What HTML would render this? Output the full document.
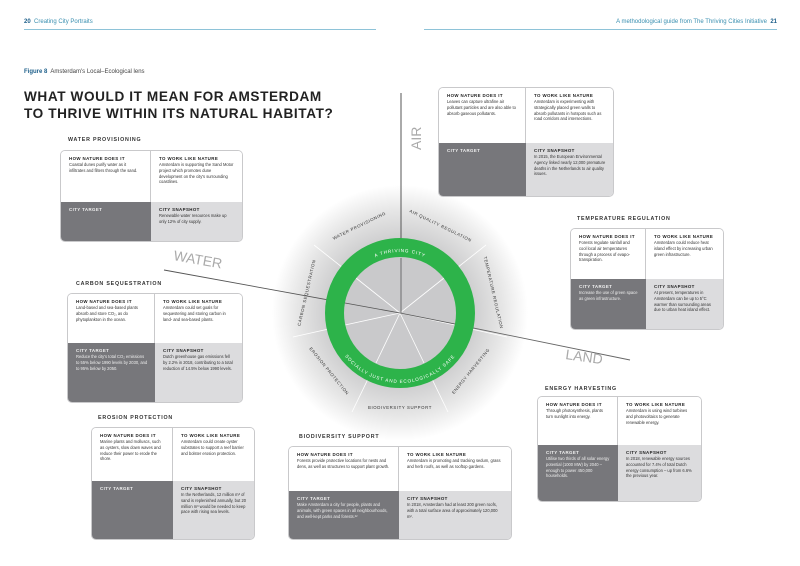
<!DOCTYPE html>
<html><head><meta charset="utf-8">
<style>
*{margin:0;padding:0;box-sizing:border-box}
body{width:800px;height:566px;background:#fff;position:relative;overflow:hidden;font-family:"Liberation Sans",sans-serif;color:#333}
.a{position:absolute}
.hdr{font-size:6px;color:#3a8fb0;top:19px;white-space:nowrap}
.hdr b{color:#1d5f8a}
.rule{position:absolute;height:1px;background:#8ec3d8;top:29px}
h1{position:absolute;left:24px;top:89px;font-size:13.6px;line-height:16.5px;font-weight:bold;color:#222;letter-spacing:.6px}
.st{position:absolute;font-size:5.3px;font-weight:bold;letter-spacing:.8px;color:#333;white-space:nowrap}
.box{position:absolute;display:grid;border:1px solid #c9c9cb;border-radius:5px;overflow:hidden;font-size:4.1px;line-height:5.8px;color:#333}
.box>div{padding:5px 7px 3px 8px}
.box b{display:block;font-size:4.4px;letter-spacing:.4px;color:#222;line-height:6px}
.box .w{background:#fff}
.box .w:first-child{border-right:1px solid #c9c9cb}
.box .d{background:#77777b;color:#eee}
.box .d b{color:#f2f2f2}
.box .l{background:#dcdcde}
</style></head><body>
<div class="a hdr" style="left:24px"><b>20</b>&nbsp; Creating City Portraits</div>
<div class="a hdr" style="right:23px">A methodological guide from The Thriving Cities Initiative&nbsp; <b>21</b></div>
<div class="rule" style="left:24px;width:352px"></div>
<div class="rule" style="left:424px;width:353px"></div>
<div class="a" style="left:24px;top:69px;font-size:6px;color:#444"><b style="color:#1d5f8a">Figure 8</b>&nbsp; Amsterdam's Local–Ecological lens</div>
<h1>WHAT WOULD IT MEAN FOR AMSTERDAM<br>TO THRIVE WITHIN ITS NATURAL HABITAT?</h1>

<svg class="a" style="left:0;top:0" width="800" height="566">
<defs>
<radialGradient id="g" cx="400" cy="313" r="128" gradientUnits="userSpaceOnUse">
<stop offset="0.58" stop-color="#cfcfd0"/><stop offset="0.8" stop-color="#e6e6e6"/><stop offset="1" stop-color="#fff"/>
</radialGradient>
<path id="tp" d="M339,313 A61,61 0 0 1 461,313"/>
<path id="bp" d="M330,313 A70,70 0 0 0 470,313"/>
</defs>
<circle cx="400" cy="313" r="128" fill="url(#g)"/>
<g stroke="#fff" stroke-width="0.8">
<line x1="400" y1="313" x2="486" y2="245"/>
<line x1="400" y1="313" x2="507" y2="337"/>
<line x1="400" y1="313" x2="448" y2="412"/>
<line x1="400" y1="313" x2="352" y2="412"/>
<line x1="400" y1="313" x2="293" y2="337"/>
<line x1="400" y1="313" x2="314" y2="245"/>
</g>
<line x1="401" y1="93" x2="401" y2="313" stroke="#555" stroke-width="1"/>
<line x1="164" y1="270" x2="400" y2="313" stroke="#555" stroke-width="0.9"/>
<line x1="400" y1="313" x2="630" y2="360" stroke="#666" stroke-width="0.9"/>
<circle cx="400" cy="313" r="56" fill="#c9c9cb"/>
<g stroke="#fff" stroke-width="0.8">
<line x1="400" y1="313" x2="444" y2="278"/><line x1="400" y1="313" x2="455" y2="325"/>
<line x1="400" y1="313" x2="424" y2="363"/><line x1="400" y1="313" x2="376" y2="363"/>
<line x1="400" y1="313" x2="345" y2="325"/><line x1="400" y1="313" x2="356" y2="278"/>
</g>
<line x1="400" y1="313" x2="455" y2="324" stroke="#555" stroke-width="0.8"/>
<line x1="345" y1="303" x2="400" y2="313" stroke="#555" stroke-width="0.8"/>
<line x1="401" y1="258" x2="401" y2="313" stroke="#555" stroke-width="0.8"/>
<circle cx="400" cy="313" r="65.5" fill="none" stroke="#2db34a" stroke-width="19"/>
<g font-family="Liberation Sans,sans-serif" font-size="4.6" fill="#fff" letter-spacing="0.9">
<text><textPath href="#tp" startOffset="50%" text-anchor="middle">A THRIVING CITY</textPath></text>
<text><textPath href="#bp" startOffset="50%" text-anchor="middle">SOCIALLY JUST AND ECOLOGICALLY SAFE</textPath></text>
</g>
<g font-family="Liberation Sans,sans-serif" font-size="4.3" fill="#333" letter-spacing="0.6" text-anchor="middle">
<text transform="translate(440,227) rotate(26)">AIR QUALITY REGULATION</text>
<text transform="translate(492,293) rotate(77)">TEMPERATURE REGULATION</text>
<text transform="translate(472,372) rotate(-51)">ENERGY HARVESTING</text>
<text transform="translate(400,409)">BIODIVERSITY SUPPORT</text>
<text transform="translate(328,372) rotate(51)">EROSION PROTECTION</text>
<text transform="translate(308,293) rotate(-77)">CARBON SEQUESTRATION</text>
<text transform="translate(360,227) rotate(-26)">WATER PROVISIONING</text>
</g>
<g font-family="Liberation Sans,sans-serif" font-size="14" fill="#aaa">
<text transform="translate(173,260) rotate(10)">WATER</text>
<text transform="translate(565,359) rotate(8)">LAND</text>
<text transform="translate(421,150) rotate(-90)">AIR</text>
</g>
</svg>

<div class="st" style="left:68px;top:137px">WATER PROVISIONING</div>
<div class="box" style="left:60px;top:150px;width:183px;height:92px;grid-template-columns:90px 1fr;grid-template-rows:51px 1fr">
<div class="w"><b>HOW NATURE DOES IT</b>Coastal dunes purify water as it infiltrates and filters through the sand.</div>
<div class="w"><b>TO WORK LIKE NATURE</b>Amsterdam is supporting the Sand Motor project which promotes dune development on the city's surrounding coastlines.</div>
<div class="d"><b>CITY TARGET</b></div>
<div class="l"><b>CITY SNAPSHOT</b>Renewable water resources make up only 12% of city supply.</div></div>

<div class="box" style="left:438px;top:87px;width:176px;height:110px;grid-template-columns:87px 1fr;grid-template-rows:55px 1fr">
<div class="w"><b>HOW NATURE DOES IT</b>Leaves can capture ultrafine air pollutant particles and are also able to absorb gaseous pollutants.</div>
<div class="w"><b>TO WORK LIKE NATURE</b>Amsterdam is experimenting with strategically placed green walls to absorb pollutants in hotspots such as road corridors and intersections.</div>
<div class="d"><b>CITY TARGET</b></div>
<div class="l"><b>CITY SNAPSHOT</b>In 2015, the European Environmental Agency linked nearly 12,000 premature deaths in the Netherlands to air quality issues.</div></div>

<div class="st" style="left:577px;top:216px">TEMPERATURE REGULATION</div>
<div class="box" style="left:570px;top:228px;width:154px;height:102px;grid-template-columns:75px 1fr;grid-template-rows:50px 1fr">
<div class="w"><b>HOW NATURE DOES IT</b>Forests regulate rainfall and cool local air temperatures through a process of evapo-transpiration.</div>
<div class="w"><b>TO WORK LIKE NATURE</b>Amsterdam could reduce heat island effect by increasing urban green infrastructure.</div>
<div class="d"><b>CITY TARGET</b>Increase the use of green space as green infrastructure.</div>
<div class="l"><b>CITY SNAPSHOT</b>At present, temperatures in Amsterdam can be up to 5°C warmer than surrounding areas due to urban heat island effect.</div></div>

<div class="st" style="left:76px;top:281px">CARBON SEQUESTRATION</div>
<div class="box" style="left:67px;top:293px;width:176px;height:110px;grid-template-columns:87px 1fr;grid-template-rows:49px 1fr">
<div class="w"><b>HOW NATURE DOES IT</b>Land-based and sea-based plants absorb and store CO₂, as do phytoplankton in the ocean.</div>
<div class="w"><b>TO WORK LIKE NATURE</b>Amsterdam could set goals for sequestering and storing carbon in land- and sea-based plants.</div>
<div class="d"><b>CITY TARGET</b>Reduce the city's total CO₂ emissions to 55% below 1990 levels by 2030, and to 95% below by 2050.</div>
<div class="l"><b>CITY SNAPSHOT</b>Dutch greenhouse gas emissions fell by 2.2% in 2018, contributing to a total reduction of 14.5% below 1990 levels.</div></div>

<div class="st" style="left:98px;top:415px">EROSION PROTECTION</div>
<div class="box" style="left:91px;top:427px;width:164px;height:113px;grid-template-columns:81px 1fr;grid-template-rows:53px 1fr">
<div class="w"><b>HOW NATURE DOES IT</b>Marine plants and molluscs, such as oysters, slow down waves and reduce their power to erode the shore.</div>
<div class="w"><b>TO WORK LIKE NATURE</b>Amsterdam could create oyster substrates to support a reef barrier and bolster erosion protection.</div>
<div class="d"><b>CITY TARGET</b></div>
<div class="l"><b>CITY SNAPSHOT</b>In the Netherlands, 12 million m³ of sand is replenished annually, but 20 million m³ would be needed to keep pace with rising sea levels.</div></div>

<div class="st" style="left:299px;top:434px">BIODIVERSITY SUPPORT</div>
<div class="box" style="left:288px;top:446px;width:224px;height:94px;grid-template-columns:110px 1fr;grid-template-rows:44px 1fr">
<div class="w"><b>HOW NATURE DOES IT</b>Forests provide protective locations for nests and dens, as well as structures to support plant growth.</div>
<div class="w"><b>TO WORK LIKE NATURE</b>Amsterdam is promoting and tracking sedum, grass and herb roofs, as well as rooftop gardens.</div>
<div class="d"><b>CITY TARGET</b>Make Amsterdam a city for people, plants and animals, with green spaces in all neighbourhoods, and well-kept parks and forests.²²</div>
<div class="l"><b>CITY SNAPSHOT</b>In 2018, Amsterdam had at least 200 green roofs, with a total surface area of approximately 120,000 m².</div></div>

<div class="st" style="left:545px;top:386px">ENERGY HARVESTING</div>
<div class="box" style="left:537px;top:396px;width:165px;height:106px;grid-template-columns:80px 1fr;grid-template-rows:48px 1fr">
<div class="w"><b>HOW NATURE DOES IT</b>Through photosynthesis, plants turn sunlight into energy.</div>
<div class="w"><b>TO WORK LIKE NATURE</b>Amsterdam is using wind turbines and photovoltaics to generate renewable energy.</div>
<div class="d"><b>CITY TARGET</b>Utilise two thirds of all solar energy potential (1000 MW) by 2040 – enough to power 450,000 households.</div>
<div class="l"><b>CITY SNAPSHOT</b>In 2018, renewable energy sources accounted for 7.4% of total Dutch energy consumption – up from 6.6% the previous year.</div></div>
</body></html>
